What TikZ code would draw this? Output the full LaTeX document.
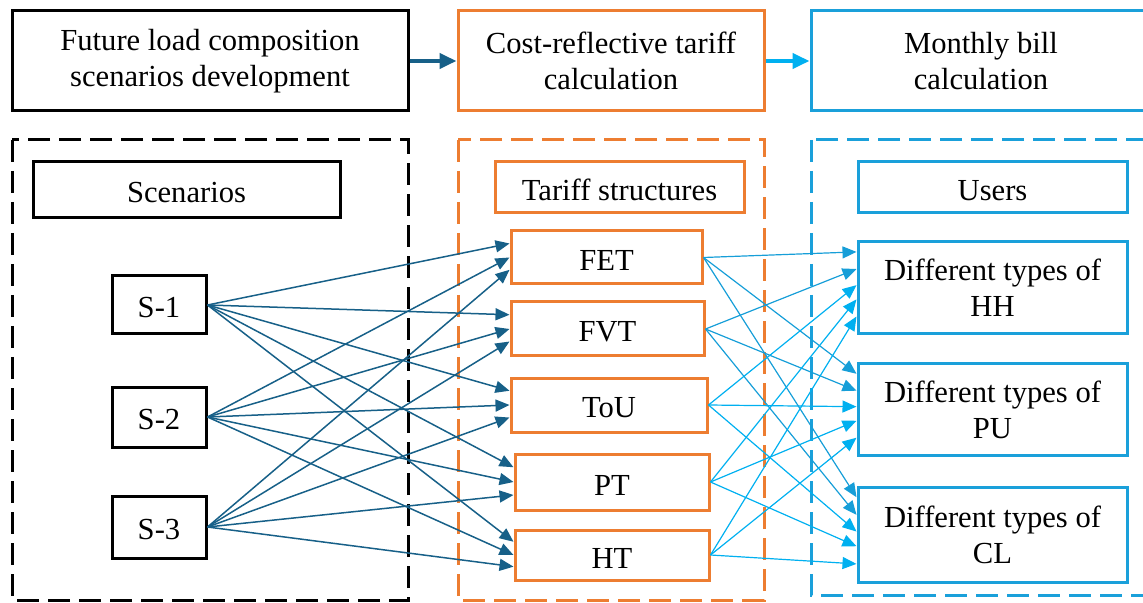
\documentclass[tikz,border=0pt]{standalone}
\usepackage{fontspec}
\setmainfont{Liberation Serif}
\usetikzlibrary{arrows.meta,calc}

\definecolor{stageorange}{RGB}{237,125,49}
\definecolor{stageblue}{RGB}{26,160,218}
\definecolor{linkdark}{RGB}{23,96,136}
\definecolor{linkmid}{RGB}{22,158,216}
\definecolor{linklight}{RGB}{0,176,240}

\tikzset{
  box/.style={rectangle, draw, line width=1.5pt, align=center, inner sep=0pt,
    font=\fontsize{15.3}{18}\selectfont, execute at begin node={\rule{0pt}{13pt}}},
  size/.style 2 args={minimum width=#1*0.5pt, minimum height=#2*0.5pt},
  region/.style={draw, line width=1.5pt, dash pattern=on 11pt off 4.5pt},
  link/.style={line width=0.75pt, -{Triangle[length=7pt,width=6pt]}},
  flow/.style={line width=2pt, -{Triangle[length=8.5pt,width=7.5pt]}}
}

\begin{document}
\begin{tikzpicture}[x=0.5pt,y=-0.5pt]
  \useasboundingbox (0,0) rectangle (1143,603);

  % stages
  \node[box, size={396}{100}] (future) at (210,61) {Future load composition\\scenarios development};
  \node[box, size={306}{100}, draw=stageorange] (cost) at (611,61) {Cost-reflective tariff\\calculation};
  \node[box, size={340}{100}, draw=stageblue] (bill) at (981,61) {Monthly bill\\calculation};

  \draw[flow, linkdark] (future) -- (cost);
  \draw[flow, linklight] (cost) -- (bill);

  % dashed regions
  \draw[region] (12,140) rectangle (408,600);
  \draw[region, stageorange] (458,140) rectangle (764,600);
  \draw[region, stageblue] (811,140) rectangle (1160,595);

  % headings
  \node[box, size={307}{56}] (scen) at (186.5,190) {Scenarios};
  \node[box, size={249}{51}, draw=stageorange] (tariff) at (619.5,187.5) {Tariff structures};
  \node[box, size={269}{51}, draw=stageblue] (users) at (992.5,187.5) {Users};

  % scenarios
  \node[box, size={94}{58}] (S1) at (159,305) {S-1};
  \node[box, size={94}{60}] (S2) at (159,417) {S-2};
  \node[box, size={94}{62}] (S3) at (159,527) {S-3};

  % tariffs
  \node[box, size={191}{53}, draw=stageorange] (FET) at (606.5,257.5) {FET};
  \node[box, size={193}{54}, draw=stageorange] (FVT) at (607.5,329) {FVT};
  \node[box, size={196}{54}, draw=stageorange] (ToU) at (609,405) {ToU};
  \node[box, size={194}{56}, draw=stageorange] (PT) at (612,482) {PT};
  \node[box, size={194}{50}, draw=stageorange] (HT) at (612,555) {HT};

  % user groups
  \node[box, size={269}{92}, draw=stageblue] (HH) at (992.5,288) {Different types of\\HH};
  \node[box, size={269}{91}, draw=stageblue] (PU) at (992.5,409.5) {Different types of\\PU};
  \node[box, size={269}{95}, draw=stageblue] (CL) at (992.5,534.5) {Different types of\\CL};

  % scenario -> tariff
  \foreach \s/\f in {S1/0.25, S2/0.5, S3/0.72}
    \foreach \t in {FET, FVT, ToU, PT, HT}
      \draw[link, linkdark] (\s.east) -- ($(\t.north west)!\f!(\t.south west)$);

  % tariff -> users
  \foreach \t/\f/\c in {FET/0.12/linkmid, FVT/0.3/linkmid, ToU/0.47/linklight, PT/0.62/linklight, HT/0.8/linklight}
    \foreach \u in {HH, PU, CL}
      \draw[link, line width=0.6pt, \c] (\t.east) -- ($(\u.north west)!\f!(\u.south west)$);
\end{tikzpicture}
\end{document}
